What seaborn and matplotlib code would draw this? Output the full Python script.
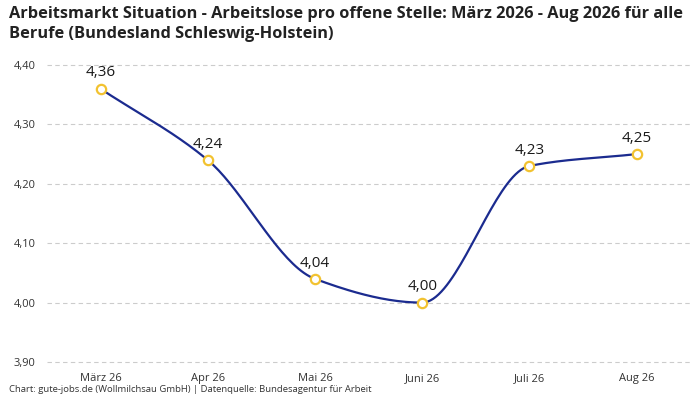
import numpy as np
import pandas as pd
import matplotlib
matplotlib.use("Agg")
import matplotlib.pyplot as plt
import seaborn as sns

months = ["März 26", "Apr 26", "Mai 26", "Juni 26", "Juli 26", "Aug 26"]
values = [4.36, 4.24, 4.04, 4.00, 4.23, 4.25]
yticks = [3.90, 4.00, 4.10, 4.20, 4.30, 4.40]

sns.set_theme(style="white")
plt.rcParams["font.family"] = ["Open Sans", "DejaVu Sans"]

df = pd.DataFrame({"monat": months, "wert": values, "pos": range(len(months))})


def monotone(x, y, n=40):
    # monotone cubic (Fritsch-Carlson) just for drawing the smooth line
    x = np.asarray(x, float); y = np.asarray(y, float)
    h = np.diff(x); d = np.diff(y) / h
    m = np.zeros_like(y)
    m[0], m[-1] = d[0], d[-1]
    for i in range(1, len(y) - 1):
        m[i] = 0 if d[i - 1] * d[i] <= 0 else 2 / (1 / d[i - 1] + 1 / d[i])
    xs, ys = [], []
    for i in range(len(h)):
        t = np.linspace(0, 1, n)
        h00 = 2*t**3 - 3*t**2 + 1; h10 = t**3 - 2*t**2 + t
        h01 = -2*t**3 + 3*t**2; h11 = t**3 - t**2
        xs.append(x[i] + t * h[i])
        ys.append(h00*y[i] + h10*h[i]*m[i] + h01*y[i+1] + h11*h[i]*m[i+1])
    return np.concatenate(xs), np.concatenate(ys)


fig = plt.figure(figsize=(7, 4), dpi=100)
ax = fig.add_axes([0.067, 0.095, 0.919, 0.7425])

sx, sy = monotone(df["pos"], df["wert"])
sns.lineplot(x=sx, y=sy, ax=ax, color="#1b2b8f", linewidth=1.6, sort=False)
sns.scatterplot(data=df, x="pos", y="wert", ax=ax, s=45, color="white",
                edgecolor="#f2c230", linewidth=1.6, zorder=5, clip_on=False)
for p, v in zip(df["pos"], df["wert"]):
    ax.annotate(f"{v:.2f}".replace(".", ","), (p, v), xytext=(0, 6),
                textcoords="offset points", ha="center", va="bottom",
                fontsize=11, fontweight="medium", color="#1a1a1a")

ax.set_xlim(-0.5, len(months) - 0.5)
ax.set_ylim(3.9, 4.4)
ax.set_xticks(range(len(months)))
ax.set_xticklabels(months, fontsize=8, color="#333333")
ax.set_yticks(yticks)
ax.set_yticklabels([f"{t:.2f}".replace(".", ",") for t in yticks], fontsize=8, color="#333333")
ax.yaxis.grid(True, linestyle=(0, (4, 3)), color="#cccccc", linewidth=0.8)
ax.set_axisbelow(True)
ax.tick_params(axis="both", length=0, pad=8)
ax.set_xlabel(""); ax.set_ylabel("")
for s in ax.spines.values():
    s.set_visible(False)
for gl in ax.get_ygridlines():
    gl.set_clip_on(False)

fig.text(0.013, 0.985, "Arbeitsmarkt Situation - Arbeitslose pro offene Stelle: März 2026 - Aug 2026 für alle\nBerufe (Bundesland Schleswig-Holstein)",
         ha="left", va="top", fontsize=11.8, fontweight="bold", color="#222222", linespacing=1.3)
fig.text(0.013, 0.015, "Chart: gute-jobs.de (Wollmilchsau GmbH) | Datenquelle: Bundesagentur für Arbeit",
         ha="left", va="bottom", fontsize=6.8, color="#333333")

fig.savefig("out.png", dpi=100)
